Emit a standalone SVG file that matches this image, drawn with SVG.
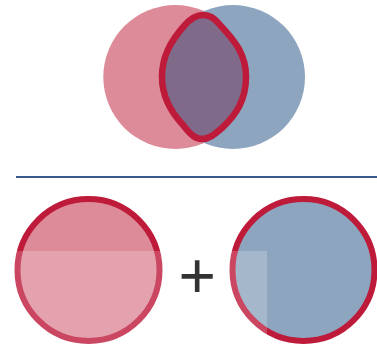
<svg xmlns="http://www.w3.org/2000/svg" width="377" height="347" viewBox="0 0 377 347">
  <style>
    .pink { fill: #DD8B99; }
    .blue { fill: #8EA5BF; }
    .ring { stroke: #BE1A3A; stroke-width: 6; }
    .plus { font-family: "Liberation Sans", Arial, sans-serif; font-size: 64px; fill: #333333; }
  </style>
  <rect width="377" height="347" fill="#FFFFFF"/>
  <g id="venn">
    <circle id="circleA" class="pink" cx="175.3" cy="77" r="72"/>
    <circle id="circleB" class="blue" cx="233" cy="77" r="72"/>
    <path id="lens" d="M 203,15 C 210,15 214,18 220,25 C 236,42 246,55 246,77 C 246,100 236,115 222,128 C 214,135 209,139 202,139 C 195,139 190,134 183,125 C 169,110 162,95 162,77 C 162,57 170,42 184,26 C 190,19 196,15 203,15 Z" fill="#7F6A8A" stroke="#BE1A3A" stroke-width="6.5" stroke-linejoin="round"/>
  </g>
  <g id="divider">
    <line x1="16" y1="177" x2="377" y2="177" stroke="#385B8C" stroke-width="2"/>
  </g>
  <g id="partA">
    <circle class="pink ring" cx="88.5" cy="270" r="71"/>
  </g>
  <g id="partB">
    <circle class="blue ring" cx="303.5" cy="270" r="71"/>
  </g>
  <rect id="highlight" x="0" y="251" width="267" height="96" fill="#FFFFFF" fill-opacity="0.2"/>
  <g id="plus">
    <text class="plus" x="197.3" y="298.3" text-anchor="middle">+</text>
  </g>
</svg>
